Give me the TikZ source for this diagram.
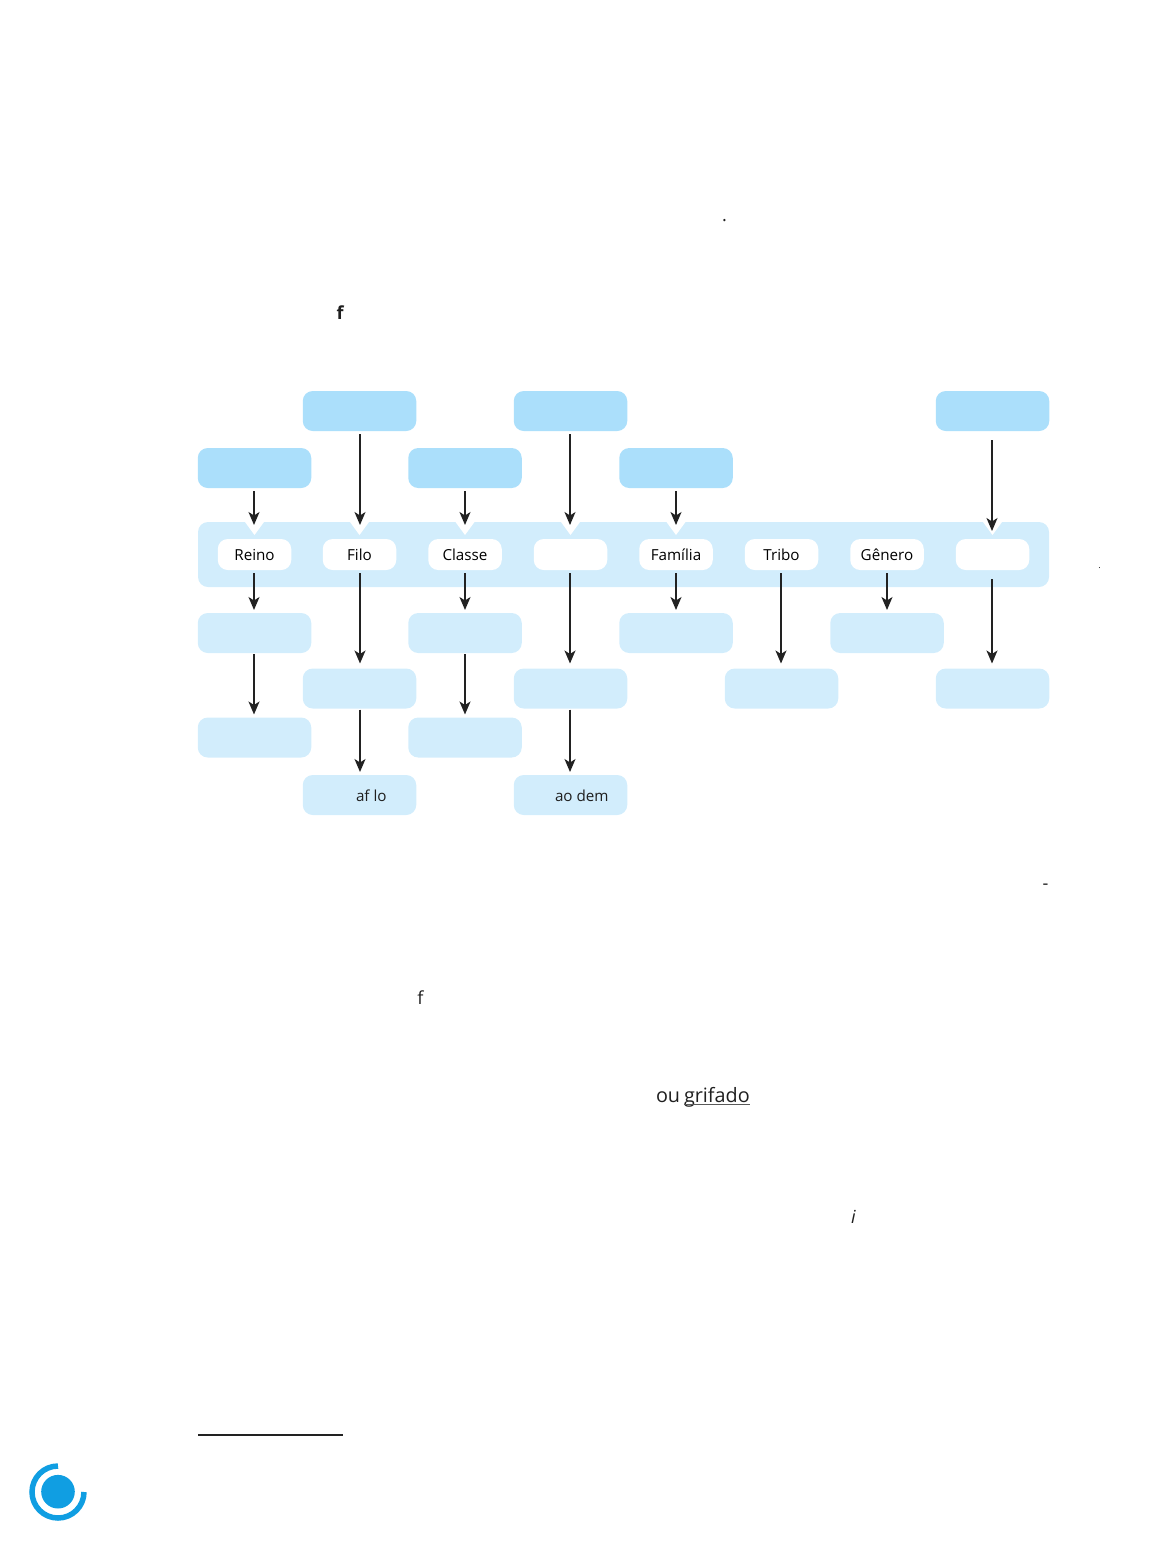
\documentclass[tikz,border=0pt]{standalone}
\usepackage{fontspec}
\setmainfont{Open Sans}
\usetikzlibrary{arrows.meta}
\definecolor{darkblue}{HTML}{ABDFFB}
\definecolor{lightblue}{HTML}{D2EDFC}
\definecolor{inkline}{HTML}{222222}
\definecolor{logoblue}{HTML}{109EE2}
\tikzset{
  x=1pt,y=-1pt,
  boxbase/.style={minimum width=113.5pt,minimum height=40pt,rounded corners=10pt,inner sep=0pt,outer sep=0pt},
  darkbox/.style={boxbase,fill=darkblue},
  lightbox/.style={boxbase,fill=lightblue},
  rankbox/.style={minimum width=73.5pt,minimum height=31pt,rounded corners=10pt,fill=white,inner sep=0pt,outer sep=0pt,font=\fontsize{15.2}{18}\selectfont},
  notchmark/.style={fill=white},
  arr/.style={draw=inkline,line width=1.6pt,-{Stealth[length=13pt,width=11pt,inset=3.5pt]}},
  txt/.style={inner sep=0pt,outer sep=0pt,text=black!88,font=\fontsize{15.2}{18}\selectfont},
  bodytxt/.style={inner sep=0pt,outer sep=0pt,text=black!88,font=\fontsize{18}{22}\selectfont},
  undertxt/.style={inner sep=0pt,outer sep=0pt,text=black!88,font=\fontsize{19.8}{24}\selectfont},
}
\begin{document}
\begin{tikzpicture}
\useasboundingbox (0,0) rectangle (1162,1559);
% band
\fill[lightblue,rounded corners=10pt] (198,522) rectangle (1049,587);
% notches
\foreach \nx/\ny in {254.5/535,359.5/535,465/535,570.5/535,676/535,992.5/535}
  \fill[notchmark] (\nx-9.5,522) -- (\nx+9.5,522) -- (\nx,\ny) -- cycle;
% top boxes
\node[darkbox] (t1) at (359.5,411) {};
\node[darkbox] (t2) at (570.5,411) {};
\node[darkbox] (t3) at (992.5,411) {};
\node[darkbox] (s1) at (254.5,468) {};
\node[darkbox] (s2) at (465,468) {};
\node[darkbox] (s3) at (676,468) {};
% rank boxes
\node[rankbox] (reino) at (254.5,554.5) {Reino};
\node[rankbox] (filo) at (359.5,554.5) {Filo};
\node[rankbox] (classe) at (465,554.5) {Classe};
\node[rankbox] (ordem) at (570.5,554.5) {};
\node[rankbox] (familia) at (676,554.5) {Família};
\node[rankbox] (tribo) at (781.5,554.5) {Tribo};
\node[rankbox] (genero) at (887,554.5) {Gênero};
\node[rankbox] (especie) at (992.5,554.5) {};
% lower boxes
\node[lightbox] (a1) at (254.5,633) {};
\node[lightbox] (a2) at (465,633) {};
\node[lightbox] (a3) at (676,633) {};
\node[lightbox] (a4) at (887,633) {};
\node[lightbox] (b1) at (359.5,688.5) {};
\node[lightbox] (b2) at (570.5,688.5) {};
\node[lightbox] (b3) at (781.5,688.5) {};
\node[lightbox] (b4) at (992.5,688.5) {};
\node[lightbox] (c1) at (254.5,737.5) {};
\node[lightbox] (c2) at (465,737.5) {};
\node[lightbox] (d1) at (359.5,795) {};
\node[lightbox] (d2) at (570.5,795) {};
\node[txt,anchor=base west] (afl) at (356,801) {af lo};
\node[txt,anchor=base west] (aod) at (555,801) {ao dem};
% arrows into band
\draw[arr,shorten <=3pt,shorten >=14pt] ([xshift=-.5pt]s1.south) -- ([xshift=-.5pt]reino.north);
\draw[arr,shorten <=3pt,shorten >=14pt] ([xshift=.5pt]t1.south) -- ([xshift=.5pt]filo.north);
\draw[arr,shorten <=3pt,shorten >=14pt] (s2.south) -- (classe.north);
\draw[arr,shorten <=3pt,shorten >=14pt] ([xshift=-.5pt]t2.south) -- ([xshift=-.5pt]ordem.north);
\draw[arr,shorten <=3pt,shorten >=14pt] (s3.south) -- (familia.north);
\draw[arr,shorten <=9pt,shorten >=8pt] ([xshift=-.5pt]t3.south) -- ([xshift=-.5pt]especie.north);
% arrows out of band
\draw[arr,shorten <=3pt,shorten >=3pt] ([xshift=-.5pt]reino.south) -- ([xshift=-.5pt]a1.north);
\draw[arr,shorten <=3pt,shorten >=5pt] ([xshift=.5pt]filo.south) -- ([xshift=.5pt]b1.north);
\draw[arr,shorten <=3pt,shorten >=3pt] (classe.south) -- (a2.north);
\draw[arr,shorten <=3pt,shorten >=5pt] ([xshift=-.5pt]ordem.south) -- ([xshift=-.5pt]b2.north);
\draw[arr,shorten <=3pt,shorten >=3pt] (familia.south) -- (a3.north);
\draw[arr,shorten <=3pt,shorten >=5pt] ([xshift=-.5pt]tribo.south) -- ([xshift=-.5pt]b3.north);
\draw[arr,shorten <=3pt,shorten >=3pt] (genero.south) -- (a4.north);
\draw[arr,shorten <=9pt,shorten >=5pt] ([xshift=-.5pt]especie.south) -- ([xshift=-.5pt]b4.north);
% lower arrows
\draw[arr,shorten <=1pt,shorten >=3pt] ([xshift=-.5pt]a1.south) -- ([xshift=-.5pt]c1.north);
\draw[arr,shorten <=1pt,shorten >=3pt] (a2.south) -- (c2.north);
\draw[arr,shorten <=1pt,shorten >=3pt] ([xshift=.5pt]b1.south) -- ([xshift=.5pt]d1.north);
\draw[arr,shorten <=1pt,shorten >=3pt] ([xshift=-.5pt]b2.south) -- ([xshift=-.5pt]d2.north);
% stray text
\node[bodytxt,anchor=base,font=\fontsize{18}{22}\selectfont\bfseries] (f1) at (340,319) {f};
\node[bodytxt,anchor=base] (dot1) at (724.5,221) {.};
\node[bodytxt,anchor=base,font=\fontsize{9}{10}\selectfont] (dot2) at (1099.5,568) {.};
\node[bodytxt,anchor=base] (dash) at (1045.5,889) {-};
\node[bodytxt,anchor=base] (f2) at (420.5,1004) {f};
\node[undertxt,anchor=base west] (ou) at (656,1102) {ou};
\node[undertxt,anchor=base west] (grif) at (684,1102) {grifado};
\draw[black!65,line width=1.2pt] ([yshift=-2.2pt]grif.base west) -- ([yshift=-2.2pt]grif.base east);
\node[bodytxt,anchor=base,font=\fontsize{18}{22}\selectfont\itshape] (i1) at (853.5,1223) {i};
% footnote rule
\draw[inkline,line width=2pt] (198,1434.5) -- (342.5,1434.5);
% logo
\fill[logoblue] (58,1491.7) circle (16.8);
\draw[logoblue,line width=5.5pt] (58,1466) arc[start angle=90,end angle=360,radius=26pt];
\end{tikzpicture}
\end{document}
